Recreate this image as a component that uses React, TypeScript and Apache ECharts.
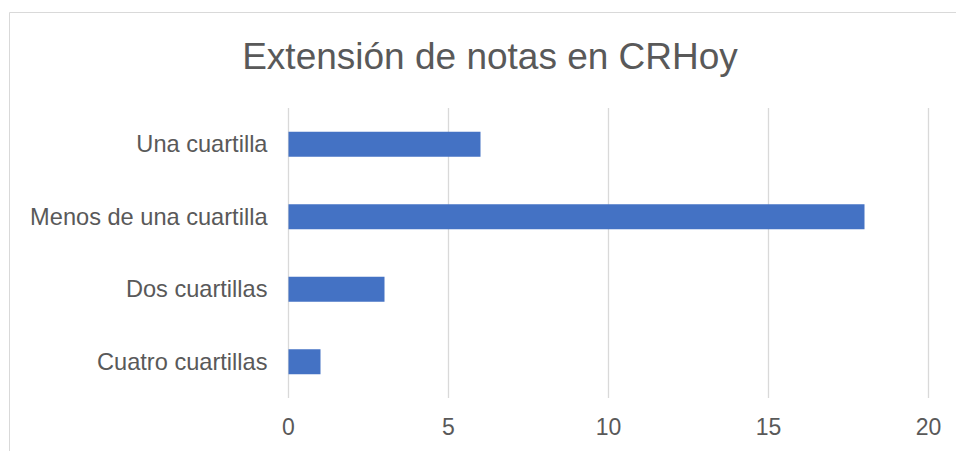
import React, { useEffect, useRef } from "react";
import * as echarts from "echarts";

const titleText = "Extensión de notas en CRHoy";
const categories = ["Una cuartilla", "Menos de una cuartilla", "Dos cuartillas", "Cuatro cuartillas"];
const values = [6, 18, 3, 1];
const xMin = 0;
const xMax = 20;
const xInterval = 5;

export default function App() {
  const ref = useRef<HTMLDivElement>(null);
  useEffect(() => {
    if (!ref.current) return;
    const chart = echarts.init(ref.current, null, { renderer: "svg" });
    const font = "'Liberation Sans', Arial, sans-serif";
    chart.setOption({
      animation: false,
      backgroundColor: "#ffffff",
      title: {
        text: titleText,
        left: 485,
        top: 33,
        textAlign: "center",
        textStyle: { fontFamily: font, fontSize: 37, fontWeight: "normal", color: "#595959" },
      },
      graphic: [
        {
          type: "rect",
          shape: { x: 9.5, y: 12.5, width: 1000, height: 1000 },
          style: { fill: "none", stroke: "#d9d9d9", lineWidth: 1 },
          silent: true,
        },
      ],
      grid: { left: 288.5, right: 27.5, top: 108, bottom: 53, containLabel: false },
      xAxis: {
        type: "value",
        min: xMin,
        max: xMax,
        interval: xInterval,
        axisLine: { show: false },
        axisTick: { show: false },
        axisLabel: { color: "#595959", fontFamily: font, fontSize: 23, margin: 17 },
        splitLine: { show: true, lineStyle: { color: "#d9d9d9", width: 1.3 } },
      },
      yAxis: {
        type: "category",
        data: categories,
        inverse: true,
        axisLine: { show: false },
        axisTick: { show: false },
        splitLine: { show: false },
        axisLabel: { color: "#595959", fontFamily: font, fontSize: 23.6, margin: 21 },
      },
      series: [
        {
          type: "bar",
          data: values,
          barWidth: 25,
          itemStyle: { color: "#4472C4" },
        },
      ],
    });
    return () => chart.dispose();
  }, []);
  return (
    <div
      ref={ref}
      style={{ position: "fixed", left: 0, top: 0, width: 956, height: 451 }}
    />
  );
}
